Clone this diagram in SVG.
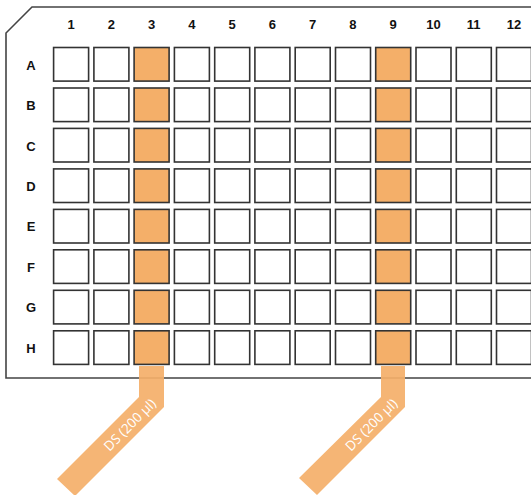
<svg xmlns="http://www.w3.org/2000/svg" width="531" height="495" viewBox="0 0 531 495">
<style>
.w{fill:#fff;stroke:#333;stroke-width:1.6}
.o{fill:#F4AF69;stroke:#333;stroke-width:1.6}
.lbl{font-family:"Liberation Sans",Arial,sans-serif;font-weight:bold;font-size:13px;fill:#111;text-anchor:middle}
.strip{fill:#F4AF69;fill-opacity:0.92}
.st{font-family:"Open Sans","Noto Sans",sans-serif;font-size:13.5px;fill:#fff;text-anchor:middle}
</style>
<rect width="531" height="495" fill="#fff"/>
<g id="plate">
<path d="M540,7 H32 L6,33 V378 H540" fill="#fff" stroke="#444" stroke-width="1.6"/>
</g>
<g id="col-labels">
<text class="lbl" x="71" y="29">1</text>
<text class="lbl" x="111.3" y="29">2</text>
<text class="lbl" x="151.5" y="29">3</text>
<text class="lbl" x="191.8" y="29">4</text>
<text class="lbl" x="232.1" y="29">5</text>
<text class="lbl" x="272.4" y="29">6</text>
<text class="lbl" x="312.6" y="29">7</text>
<text class="lbl" x="352.9" y="29">8</text>
<text class="lbl" x="393.2" y="29">9</text>
<text class="lbl" x="433.4" y="29">10</text>
<text class="lbl" x="473.7" y="29">11</text>
<text class="lbl" x="514" y="29">12</text>
</g>
<g id="row-labels">
<text class="lbl" x="31" y="69.5">A</text>
<text class="lbl" x="31" y="110">B</text>
<text class="lbl" x="31" y="150.5">C</text>
<text class="lbl" x="31" y="191">D</text>
<text class="lbl" x="31" y="231.4">E</text>
<text class="lbl" x="31" y="271.9">F</text>
<text class="lbl" x="31" y="312.3">G</text>
<text class="lbl" x="31" y="352.8">H</text>
</g>
<defs>
<g id="row">
<rect class="w" x="53.6" y="0" width="35" height="33.6"/>
<rect class="w" x="93.9" y="0" width="35" height="33.6"/>
<rect class="o" x="134.1" y="0" width="35" height="33.6"/>
<rect class="w" x="174.4" y="0" width="35" height="33.6"/>
<rect class="w" x="214.7" y="0" width="35" height="33.6"/>
<rect class="w" x="254.9" y="0" width="35" height="33.6"/>
<rect class="w" x="295.2" y="0" width="35" height="33.6"/>
<rect class="w" x="335.5" y="0" width="35" height="33.6"/>
<rect class="o" x="375.7" y="0" width="35" height="33.6"/>
<rect class="w" x="416" y="0" width="35" height="33.6"/>
<rect class="w" x="456.3" y="0" width="35" height="33.6"/>
<rect class="w" x="496.5" y="0" width="35" height="33.6"/>
</g>
</defs>
<g id="wells">
<use href="#row" y="47.5"/>
<use href="#row" y="88"/>
<use href="#row" y="128.4"/>
<use href="#row" y="168.9"/>
<use href="#row" y="209.4"/>
<use href="#row" y="249.8"/>
<use href="#row" y="290.3"/>
<use href="#row" y="330.8"/>
</g>
<g id="connectors">
<g id="strip-3">
<polygon class="strip" points="139,366 164,366 164,407 75,496 57,479 139,397"/>
<text class="st" transform="translate(130,425) rotate(-45)" y="4.5">DS (200 µl)</text>
</g>
<g id="strip-9">
<polygon class="strip" points="381,366 405,366 405,407 317,495 299,478 381,397"/>
<text class="st" transform="translate(371.5,425) rotate(-45)" y="4.5">DS (200 µl)</text>
</g>
</g>
</svg>
